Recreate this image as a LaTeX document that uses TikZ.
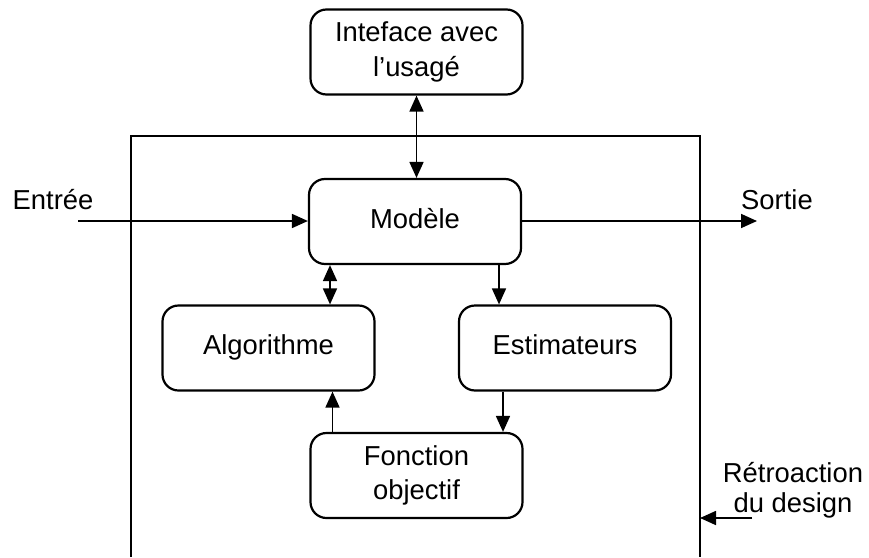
\documentclass[tikz,border=0pt]{standalone}
\usepackage{fontspec}
\setmainfont{Liberation Sans}
\usetikzlibrary{arrows.meta}
\begin{document}
\begin{tikzpicture}[x=1pt,y=-1pt,
  box/.style={draw,line width=2.2pt,rounded corners=16pt,minimum width=212pt,minimum height=85pt,align=center,inner sep=0pt},
  oneline/.style={text height=19.6pt,text depth=5.8pt},
  lbl/.style={align=center,inner sep=0pt},
  conn/.style={line width=1.7pt},
  tip/.style={-{Triangle[length=16pt,width=14pt]}},
  dtip/.style={{Triangle[length=16pt,width=14pt]}-{Triangle[length=16pt,width=14pt]}}
]
\fontsize{27.4pt}{35pt}\selectfont
\useasboundingbox (0,0) rectangle (869,557);
% frame
\draw[line width=1.8pt] (131,557) -- (131,136) -- (700,136) -- (700,557);
% nodes
\node[box] (iface) at (416.5,52) {Inteface avec\\l'usagé};
\node[box,oneline] (model) at (415,221.5) {Modèle};
\node[box,oneline] (algo) at (268.5,348) {Algorithme};
\node[box,oneline] (est) at (565,348) {Estimateurs};
\node[box,font=\fontsize{27.4pt}{34pt}\selectfont] (fobj) at (416.5,475.5) {Fonction\\objectif};
\node[lbl] (entree) at (53,200) {Entrée};
\node[lbl] (sortie) at (777,200) {Sortie};
\node[lbl,font=\fontsize{27.4pt}{30pt}\selectfont] (retro) at (793,490) {Rétroaction\\du design};
\coordinate (in) at (78,221);
\coordinate (out) at (757,221);
\coordinate (fbs) at (752,518);
\coordinate (fbe) at (700,518);
% connectors
\draw[conn,dtip] (iface.south) -- (iface.south |- model.north);
\draw[conn,tip] (in) -- (in -| model.west);
\draw[conn,tip] (out -| model.east) -- (out);
\draw[conn,dtip] ([xshift=-85pt]model.south) -- ([xshift=-85pt]model.south |- algo.north);
\draw[conn,tip] ([xshift=84pt]model.south) -- ([xshift=84pt]model.south |- est.north);
\draw[conn,tip] ([xshift=-84pt]fobj.north) -- ([xshift=-84pt]fobj.north |- algo.south);
\draw[conn,tip] ([xshift=-62pt]est.south) -- ([xshift=-62pt]est.south |- fobj.north);
\draw[conn,tip] (fbs) -- (fbe);
\end{tikzpicture}
\end{document}
